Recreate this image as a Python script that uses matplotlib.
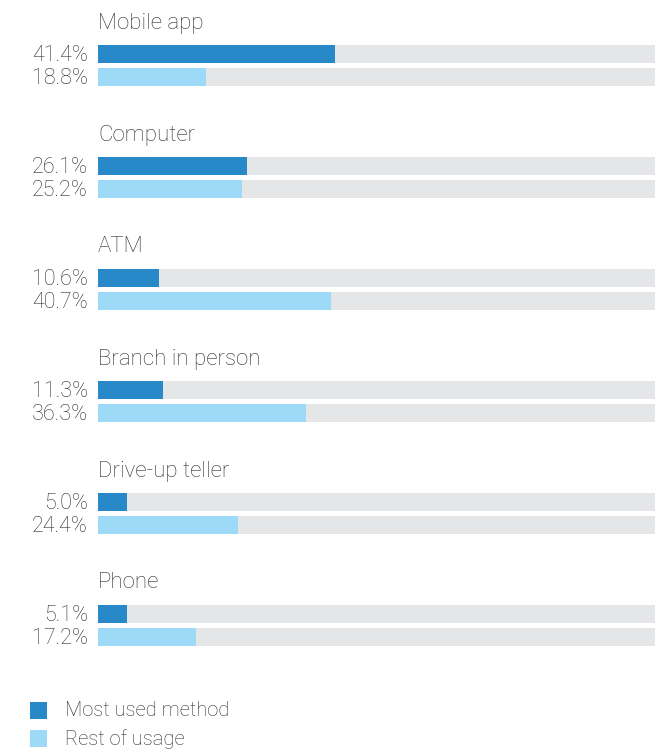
import matplotlib.pyplot as plt
from matplotlib.patches import Rectangle

categories = ["Mobile app", "Computer", "ATM", "Branch in person", "Drive-up teller", "Phone"]
most_used = [41.4, 26.1, 10.6, 11.3, 5.0, 5.1]
rest_usage = [18.8, 25.2, 40.7, 36.3, 24.4, 17.2]

dark = "#2888c8"
light = "#9ddaf7"
gray = "#e5e6e8"
txt = "#2e2e2e"

plt.rcParams['font.family'] = ['Roboto', 'DejaVu Sans']

W, H = 667, 749
fig = plt.figure(figsize=(W / 100, H / 100), dpi=100)
x0, x1 = 98, 655
ax = fig.add_axes([x0 / W, 0, (x1 - x0) / W, 1])
full = 97.4
ax.set_xlim(0, full)
ax.set_ylim(H, 0)
ax.axis('off')

px = full / (x1 - x0)  # data units per pixel
step = 112
bh = 18
for i, cat in enumerate(categories):
    top = i * step
    y1 = top + 54
    y2 = top + 77
    ax.text(0, top + 23, cat, fontsize=16, color=txt, va='center', ha='left', fontweight='light')
    ax.barh([y1, y2], [full, full], height=bh, color=gray, linewidth=0)
    ax.barh(y1, most_used[i], height=bh, color=dark, linewidth=0)
    ax.barh(y2, rest_usage[i], height=bh, color=light, linewidth=0)
    ax.text(-10 * px, y1 + 1.5, f"{most_used[i]:.1f}%", fontsize=15.5, color=txt, va='center', ha='right', fontweight='light')
    ax.text(-10 * px, y2 + 1.5, f"{rest_usage[i]:.1f}%", fontsize=15.5, color=txt, va='center', ha='right', fontweight='light')

# legend in pixel coords
lax = fig.add_axes([0, 0, 1, 1])
lax.set_xlim(0, W)
lax.set_ylim(H, 0)
lax.axis('off')
for yy, c, lab in [(710, dark, "Most used method"), (738, light, "Rest of usage")]:
    lax.add_patch(Rectangle((30, yy - 8.5), 17, 17, color=c, linewidth=0))
    lax.text(65, yy + 1, lab, fontsize=14.5, color=txt, va='center', ha='left', fontweight='light')

fig.savefig("out.png", dpi=100)
